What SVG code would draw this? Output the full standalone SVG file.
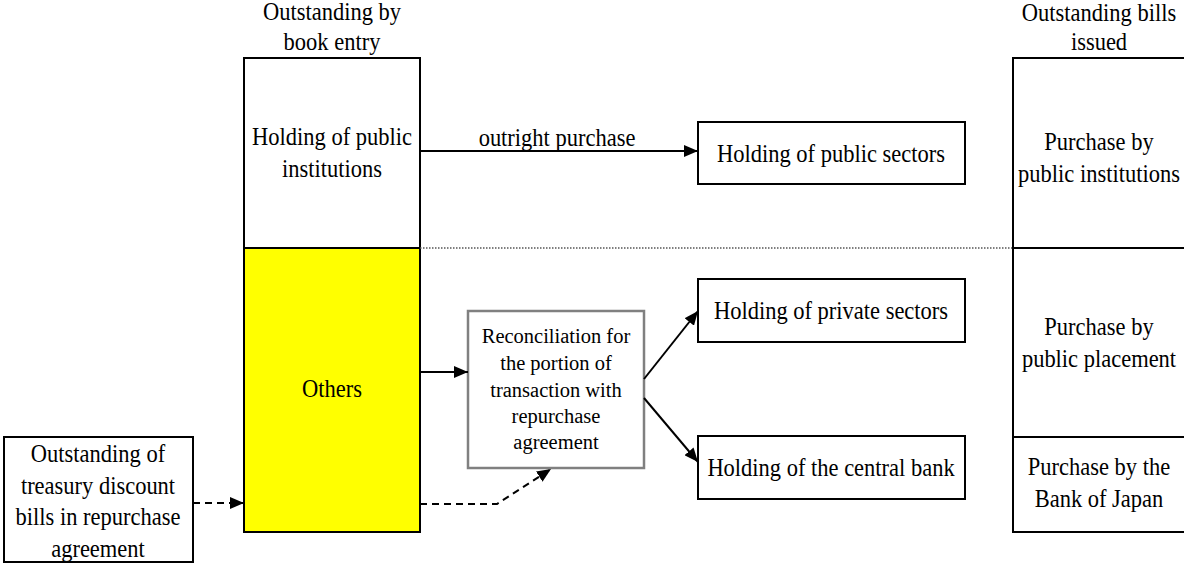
<svg xmlns="http://www.w3.org/2000/svg" width="1184" height="564" viewBox="0 0 1184 564">
  <style>
    text { font-family: "Liberation Serif", "Times New Roman", serif; font-size: 25px; fill: #000; text-anchor: middle; }
    .small { font-size: 20.5px; }
    .box { fill: #fff; stroke: #000; stroke-width: 2; }
    .line { fill: none; stroke: #000; stroke-width: 2; }
    .dash { fill: none; stroke: #000; stroke-width: 2; stroke-dasharray: 7 5; }
  </style>
  <defs>
    <marker id="arrow" markerUnits="userSpaceOnUse" markerWidth="14" markerHeight="12" refX="14" refY="6" orient="auto">
      <path d="M0,0 L14,6 L0,12 Z" fill="#000"/>
    </marker>
  </defs>

  <rect width="1184" height="564" fill="#fff"/>

  <!-- column headings (labels use a slightly narrowed serif: translate to anchor, scale x 0.9) -->
  <g id="heading-book-entry">
    <text transform="translate(332 20) scale(0.9 1)">Outstanding by</text>
    <text transform="translate(332 50) scale(0.9 1)">book entry</text>
  </g>
  <g id="heading-bills-issued">
    <text transform="translate(1099 21) scale(0.9 1)">Outstanding bills</text>
    <text transform="translate(1099 50) scale(0.9 1)">issued</text>
  </g>

  <!-- book-entry column -->
  <g id="public-institutions">
    <rect class="box" x="244" y="58" width="176" height="190"/>
    <text transform="translate(332 145) scale(0.9 1)">Holding of public</text>
    <text transform="translate(332 177) scale(0.9 1)">institutions</text>
  </g>
  <g id="others">
    <rect x="244" y="248" width="176" height="284" fill="#ffff00" stroke="#000" stroke-width="2"/>
    <text transform="translate(332 397) scale(0.9 1)">Others</text>
  </g>

  <!-- divider between public and other holdings -->
  <line x1="420" y1="248" x2="1013" y2="248" stroke="#555" stroke-width="1.5" stroke-dasharray="1.5 1.5"/>

  <!-- repo source -->
  <g id="repo-outstanding">
    <rect class="box" x="4" y="437" width="189" height="125"/>
    <text transform="translate(98 462) scale(0.9 1)">Outstanding of</text>
    <text transform="translate(98 494) scale(0.9 1)">treasury discount</text>
    <text transform="translate(98 525) scale(0.9 1)">bills in repurchase</text>
    <text transform="translate(98 557) scale(0.9 1)">agreement</text>
  </g>

  <!-- reconciliation step -->
  <g id="reconciliation">
    <rect x="468" y="311" width="176" height="157" fill="#fff" stroke="#808080" stroke-width="2.5"/>
    <text class="small" x="556" y="343">Reconciliation for</text>
    <text class="small" x="556" y="370">the portion of</text>
    <text class="small" x="556" y="397">transaction with</text>
    <text class="small" x="556" y="423">repurchase</text>
    <text class="small" x="556" y="449">agreement</text>
  </g>

  <!-- holders -->
  <g id="public-sectors">
    <rect class="box" x="698" y="122" width="267" height="62"/>
    <text transform="translate(831 162) scale(0.9 1)">Holding of public sectors</text>
  </g>
  <g id="private-sectors">
    <rect class="box" x="698" y="279" width="267" height="63"/>
    <text transform="translate(831 319) scale(0.9 1)">Holding of private sectors</text>
  </g>
  <g id="central-bank">
    <rect class="box" x="698" y="436" width="267" height="63"/>
    <text transform="translate(831 476) scale(0.9 1)">Holding of the central bank</text>
  </g>

  <!-- issuance column -->
  <g id="purchase-public-institutions">
    <rect class="box" x="1013" y="58" width="180" height="190"/>
    <text transform="translate(1099 150) scale(0.9 1)">Purchase by</text>
    <text transform="translate(1099 182) scale(0.9 1)">public institutions</text>
  </g>
  <g id="purchase-public-placement">
    <rect class="box" x="1013" y="248" width="180" height="189"/>
    <text transform="translate(1099 335) scale(0.9 1)">Purchase by</text>
    <text transform="translate(1099 367) scale(0.9 1)">public placement</text>
  </g>
  <g id="purchase-boj">
    <rect class="box" x="1013" y="437" width="180" height="95"/>
    <text transform="translate(1099 475) scale(0.9 1)">Purchase by the</text>
    <text transform="translate(1099 507) scale(0.9 1)">Bank of Japan</text>
  </g>

  <!-- connectors -->
  <g id="connectors">
    <line class="line" x1="420" y1="151" x2="698" y2="151" marker-end="url(#arrow)"/>
    <text transform="translate(557 146) scale(0.9 1)">outright purchase</text>
    <line class="line" x1="420" y1="372" x2="468" y2="372" marker-end="url(#arrow)"/>
    <line class="line" x1="644" y1="379" x2="698" y2="311" marker-end="url(#arrow)"/>
    <line class="line" x1="644" y1="398" x2="698" y2="462" marker-end="url(#arrow)"/>
    <line class="dash" x1="193" y1="503" x2="244" y2="503" marker-end="url(#arrow)"/>
    <polyline class="dash" points="420,504 497,504 551,469" marker-end="url(#arrow)"/>
  </g>
</svg>
